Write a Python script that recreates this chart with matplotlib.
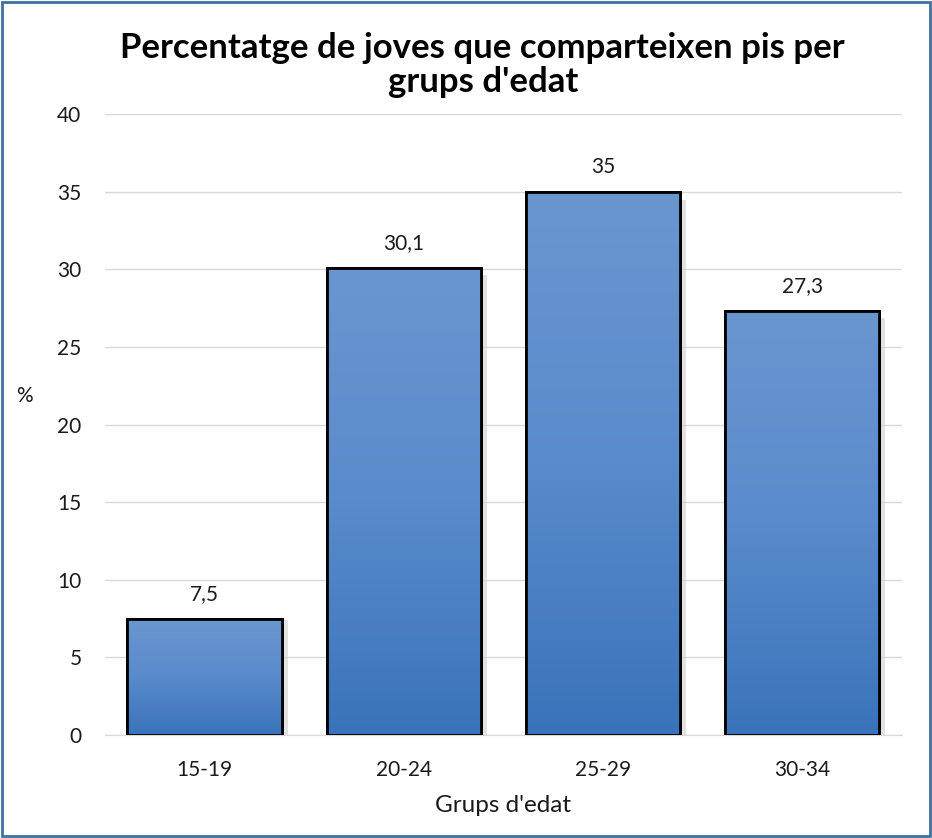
import numpy as np
import matplotlib.pyplot as plt
from matplotlib.colors import LinearSegmentedColormap
from matplotlib.patches import Rectangle

plt.rcParams["font.family"] = ["Lato", "DejaVu Sans"]

# Dades
grups = ["15-19", "20-24", "25-29", "30-34"]
percentatge = [7.5, 30.1, 35, 27.3]
etiquetes = ["7,5", "30,1", "35", "27,3"]

fig = plt.figure(figsize=(9.32, 8.38), dpi=100)
ax = fig.add_axes([0.1127, 0.1229, 0.855, 0.741])

x = np.arange(len(grups))
bars = ax.bar(x, percentatge, width=0.775, color="#4f81c4", edgecolor="black",
              linewidth=2, zorder=3)

# degradat dins de cada barra
cmap = LinearSegmentedColormap.from_list("blau", ["#3a73ba", "#5a8bcb", "#6a96d0"])
grad = np.linspace(0, 1, 256).reshape(-1, 1)
for b in bars:
    x0, w, h = b.get_x(), b.get_width(), b.get_height()
    im = ax.imshow(grad, extent=[x0, x0 + w, 0, h], origin="lower", cmap=cmap,
                   aspect="auto", zorder=3.5)
    im.set_clip_path(b)
    # ombra suau a la dreta
    ax.add_patch(Rectangle((x0 + w, 0), 0.03, h * 0.985, color="#cfcfcf",
                           alpha=0.6, zorder=2.5, linewidth=0))
    ax.add_patch(Rectangle((x0, 0), w, h, fill=False, edgecolor="black",
                           linewidth=2, zorder=4))

for xi, v, t in zip(x, percentatge, etiquetes):
    ax.text(xi, v + 1.6, t, ha="center", va="center", fontsize=15, color="#1a1a1a")

ax.set_xlim(-0.5, 3.5)
ax.set_ylim(0, 40)
ax.set_yticks(range(0, 41, 5))
ax.set_xticks(x)
ax.set_xticklabels(grups)
ax.tick_params(axis="both", length=0, labelsize=15, colors="#1a1a1a")
ax.tick_params(axis="y", pad=17)
ax.tick_params(axis="x", pad=18)
ax.grid(axis="y", color="#d9d9d9", linewidth=1, zorder=0)
for s in ["top", "right", "left"]:
    ax.spines[s].set_visible(False)
ax.spines["bottom"].set_color("#d9d9d9")
ax.spines["bottom"].set_zorder(1)

ax.set_xlabel("Grups d'edat", fontsize=17.5, color="#1a1a1a", labelpad=11)
fig.text(0.026, 0.528, "%", fontsize=15, color="#1a1a1a", ha="center", va="center")

fig.text(0.518, 0.962, "Percentatge de joves que comparteixen pis per\ngrups d'edat",
         fontsize=25, fontweight="bold", ha="center", va="top", linespacing=1.1)

# marc exterior
fig.add_artist(Rectangle((0.002, 0.002), 0.996, 0.996, transform=fig.transFigure,
                         fill=False, edgecolor="#41719c", linewidth=2))

plt.savefig("out.png", dpi=100)
